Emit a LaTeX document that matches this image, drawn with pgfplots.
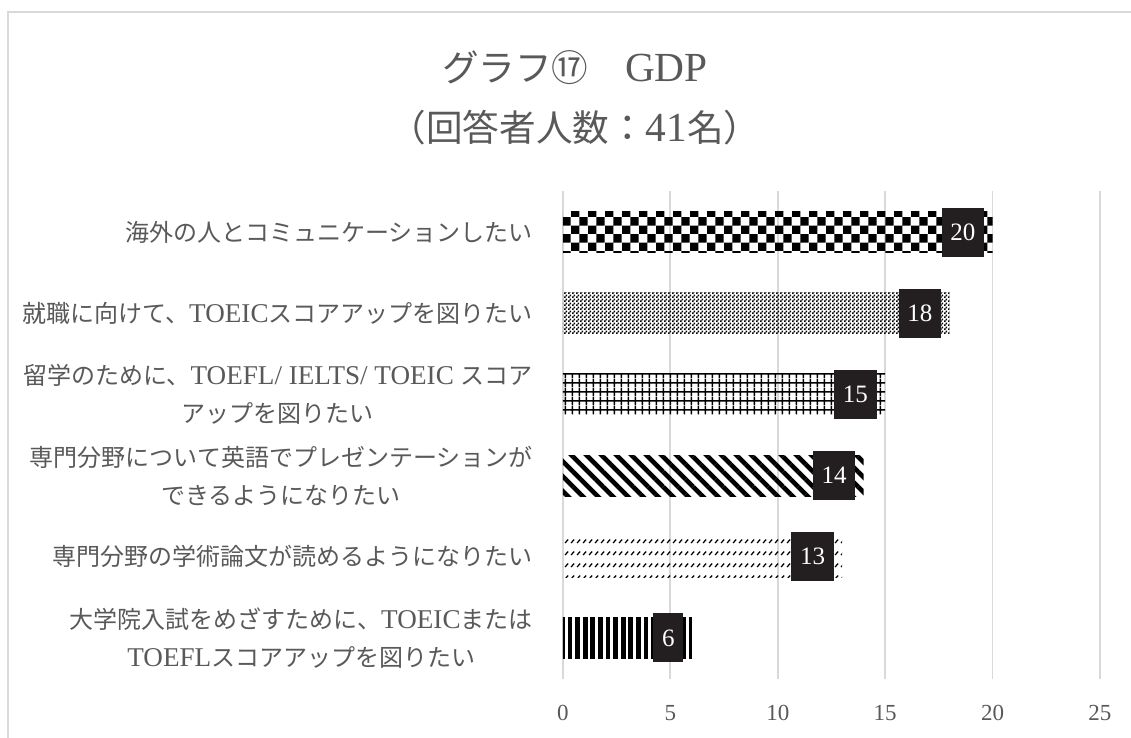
\documentclass[border=0pt]{standalone}
\usepackage{fontspec}
\setmainfont{Liberation Serif}
\newfontfamily\cjk{Noto Sans CJK JP}
\newfontfamily\lat{Liberation Serif}[Scale=1.13]
\newcommand{\J}[1]{{\cjk #1}}
\newcommand{\Lt}[1]{{\lat #1}}
\usepackage{pgfplots}
\pgfplotsset{compat=1.18}
\usetikzlibrary{patterns,patterns.meta}
\definecolor{textgray}{RGB}{89,89,89}
\definecolor{gridgray}{RGB}{217,217,217}
\definecolor{boxblack}{RGB}{35,31,32}

\pgfdeclarepatternformonly{bigchecker}{\pgfqpoint{0pt}{0pt}}{\pgfqpoint{8.4pt}{8.4pt}}{\pgfqpoint{8.4pt}{8.4pt}}{%
  \pgfpathrectangle{\pgfqpoint{0pt}{0pt}}{\pgfqpoint{4.2pt}{4.2pt}}%
  \pgfpathrectangle{\pgfqpoint{4.2pt}{4.2pt}}{\pgfqpoint{4.2pt}{4.2pt}}%
  \pgfusepath{fill}}
\pgfdeclarepatternformonly{finechecker}{\pgfqpoint{0pt}{0pt}}{\pgfqpoint{2pt}{2pt}}{\pgfqpoint{2pt}{2pt}}{%
  \pgfpathrectangle{\pgfqpoint{0pt}{0pt}}{\pgfqpoint{1pt}{1pt}}%
  \pgfpathrectangle{\pgfqpoint{1pt}{1pt}}{\pgfqpoint{1pt}{1pt}}%
  \pgfusepath{fill}}
\pgfdeclarepatternformonly{mygrid}{\pgfqpoint{0pt}{0pt}}{\pgfqpoint{3.7pt}{4.5pt}}{\pgfqpoint{3.7pt}{4.5pt}}{%
  \pgfsetlinewidth{0.8pt}%
  \pgfpathmoveto{\pgfqpoint{1.85pt}{0pt}}\pgfpathlineto{\pgfqpoint{1.85pt}{4.5pt}}%
  \pgfpathmoveto{\pgfqpoint{0pt}{2.25pt}}\pgfpathlineto{\pgfqpoint{3.7pt}{2.25pt}}%
  \pgfusepath{stroke}}
\pgfdeclarepatternformonly{dashdiag}{\pgfqpoint{0pt}{0pt}}{\pgfqpoint{3pt}{6pt}}{\pgfqpoint{3pt}{6pt}}{%
  \pgfsetlinewidth{0.7pt}%
  \pgfpathmoveto{\pgfqpoint{0.6pt}{1.6pt}}\pgfpathlineto{\pgfqpoint{2.4pt}{3.4pt}}%
  \pgfusepath{stroke}}

\begin{document}
\begin{tikzpicture}
\useasboundingbox (0,0) rectangle (565.5pt,369pt);
\fill[white] (0,0) rectangle (565.5pt,369pt);
\draw[gridgray, line width=1pt] (4pt,-10pt) rectangle (580pt,363pt);
\node[align=center, text=textgray, font=\fontsize{18.3}{30}\selectfont] at (287.5pt,320pt)
  {\J{グラフ⑰　}\Lt{GDP}\\\J{（回答者人数：}\Lt{41}\J{名）}};
\begin{axis}[
  at={(281.5pt,29.7pt)}, anchor=south west,
  scale only axis, width=268.5pt, height=243.6pt,
  xmin=0, xmax=25, ymin=-0.5, ymax=5.5,
  xtick={0,5,...,25}, ytick={0,...,5},
  axis line style={draw=none}, major tick length=0pt, tick style={draw=none},
  xmajorgrids, grid style={gridgray, line width=0.9pt},
  /pgf/number format/assume math mode=true,
  xticklabel style={anchor=center, yshift=-17.2pt, inner sep=0pt, text=textgray, font=\fontsize{11.5}{13}\selectfont},
  yticklabel style={anchor=east, align=center, inner sep=0pt, xshift=-15pt, text=textgray, font=\fontsize{12}{19}\selectfont},
  yticklabels={
    {\J{大学院入試をめざすために、}\Lt{TOEIC}\J{または}\\\Lt{TOEFL}\J{スコアアップを図りたい}},
    {\J{専門分野の学術論文が読めるようになりたい}},
    {\J{専門分野について英語でプレゼンテーションが}\\\J{できるようになりたい}},
    {\J{留学のために、}\Lt{TOEFL/ IELTS/ TOEIC }\J{スコア}\\\J{アップを図りたい}},
    {\J{就職に向けて、}\Lt{TOEIC}\J{スコアアップを図りたい}},
    {\J{海外の人とコミュニケーションしたい}}
  },
  xbar, bar width=20.5pt, bar shift=0pt,
  point meta=x,
  nodes near coords,
  every node near coord/.append style={anchor=east, xshift=-4pt, fill=boxblack, text=white,
     font=\fontsize{12.5}{14}\selectfont, inner xsep=4.4pt, inner ysep=0pt, minimum height=24.5pt},
]
\addplot[draw=none, pattern=bigchecker, pattern color=black] coordinates {(20,5)};
\addplot[draw=none, pattern=finechecker, pattern color=black] coordinates {(18,4)};
\addplot[draw=none, pattern=mygrid, pattern color=black] coordinates {(15,3)};
\addplot[draw=none, pattern={Lines[angle=-45,distance=5.3pt,line width=2.3pt]}, pattern color=black] coordinates {(14,2)};
\addplot[draw=none, pattern=dashdiag, pattern color=black] coordinates {(13,1)};
\addplot[draw=none, pattern={Lines[angle=90,distance=3.8pt,line width=2.35pt]}, pattern color=black] coordinates {(6,0)};
\end{axis}
\end{tikzpicture}
\end{document}
